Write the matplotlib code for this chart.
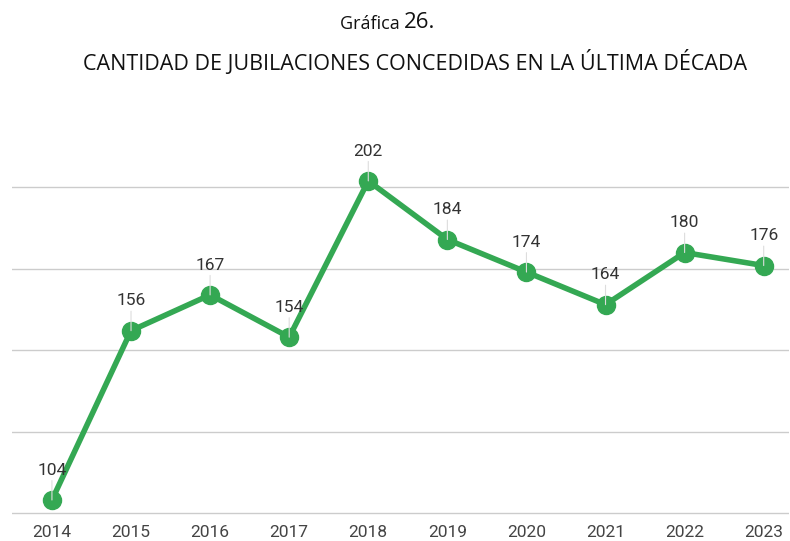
import matplotlib.pyplot as plt

# ----------------------------
# Data
# ----------------------------
years = [2014, 2015, 2016, 2017, 2018, 2019, 2020, 2021, 2022, 2023]
jubilaciones = [104, 156, 167, 154, 202, 184, 174, 164, 180, 176]

GREEN = "#34A853"
TITLE_FONT = ["Open Sans", "DejaVu Sans"]

# ----------------------------
# Plot
# ----------------------------
fig = plt.figure(figsize=(7.9, 5.41), dpi=100)
ax = fig.add_axes([12 / 790, 26 / 541, 777 / 790, 409 / 541])

ax.plot(years, jubilaciones, color=GREEN, lw=4, marker="o",
        markersize=13, solid_capstyle="round", zorder=3)

for x, y in zip(years, jubilaciones):
    ax.annotate(str(y), xy=(x, y), xytext=(0, 16), textcoords="offset points",
                ha="center", va="bottom", fontsize=12.5, color="#333333",
                family="Roboto",
                arrowprops=dict(arrowstyle="-", color="#dddddd", lw=0.8,
                                shrinkA=0, shrinkB=0))

ax.set_xlim(2013.495, 2023.32)
ax.set_ylim(99.4, 225)
ax.set_yticks([100, 125, 150, 175, 200])
ax.set_xticks(years)
ax.set_xticklabels([str(y) for y in years], family="Roboto", fontsize=12.5,
                   color="#444444")
ax.tick_params(axis="y", left=False, labelleft=False)
ax.tick_params(axis="x", length=0, pad=7)
ax.grid(axis="y", color="#cccccc", lw=1)
ax.set_axisbelow(True)
for s in ax.spines.values():
    s.set_visible(False)

# Title
fig.text(404 / 790, 1 - 24 / 541, "Gráfica ", ha="right", va="center",
         fontsize=13, family=TITLE_FONT, color="#111111")
fig.text(404 / 790, 1 - 23 / 541, "26.", ha="left", va="center",
         fontsize=16, family=TITLE_FONT, color="#111111")
fig.text(415 / 790, 1 - 63 / 541,
         "CANTIDAD DE JUBILACIONES CONCEDIDAS EN LA ÚLTIMA DÉCADA",
         ha="center", va="center", fontsize=15.5, family=TITLE_FONT,
         color="#111111")

plt.savefig("out.png", dpi=100)
plt.close()
